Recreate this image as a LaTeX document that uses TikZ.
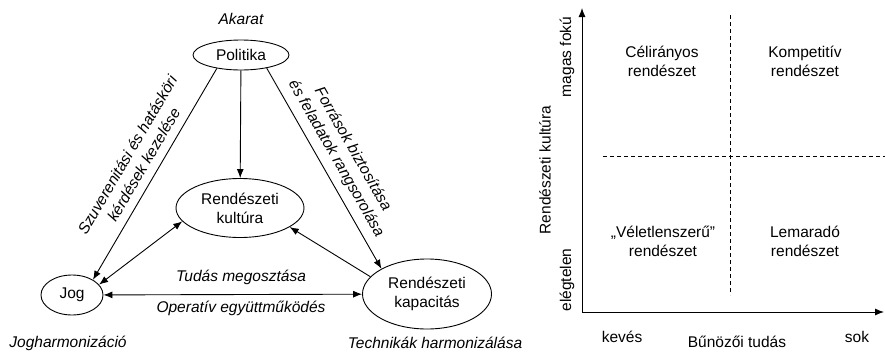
\documentclass[tikz,border=0pt]{standalone}
\usepackage{fontspec}
\setmainfont{Liberation Sans}
\usetikzlibrary{positioning,arrows.meta,shapes.geometric}

\begin{document}
\begin{tikzpicture}[
    x=1pt, y=-1pt,
    >={Latex[length=9pt,width=7pt]},
    line width=0.9pt,
    every node/.style={font=\fontsize{15.5}{19}\selectfont, align=center},
    oval/.style={ellipse, draw, inner sep=0pt},
    note/.style={font=\fontsize{15.5}{19}\selectfont\itshape},
    split/.style={dash pattern=on 4pt off 3pt, line width=0.8pt}
]
\useasboundingbox (0,0) rectangle (885,351);

% === Triangle ===
\node[note] (akarat) at (241,19) {Akarat};
\node[oval, minimum width=96pt, minimum height=30pt] (politika) at (241,55) {Politika};
\node[oval, minimum width=128pt, minimum height=59pt] (kultura) at (240,208) {Rendészeti\\kultúra};
\node[oval, minimum width=62pt, minimum height=40pt] (jog) at (72,295) {Jog};
\node[oval, minimum width=129pt, minimum height=70pt] (kapacitas) at (427,294) {Rendészeti\\kapacitás};

% Corner notes
\node[note] (jogharm) at (68,343) {Jogharmonizáció};
\node[note] (technika) at (435,343) {Technikák harmonizálása};

% Arrows
\draw[->] (politika) -- (kultura);
\draw[->] (politika.209) -- node[note, pos=0.49, sloped, above=5pt] {Szuverenitási és hatásköri\\kérdések kezelése} (jog.36);
\draw[->] (politika.333) -- node[note, pos=0.49, sloped, above=4pt] {Források biztosítása\\és feladatok rangsorolása} (kapacitas.151);
\draw[<->] (jog.21) -- (kultura.193);
\draw[->] (kapacitas.163) -- (kultura.339);
\draw[<->] (jog) -- (kapacitas);
\node[note] (tudas) at (241,277) {Tudás megosztása};
\node[note] (operativ) at (241,308) {Operatív együttműködés};

% === Quadrants ===
\coordinate (ytop) at (582,8);
\coordinate (xend) at (884,312);
\draw[<->] (ytop) |- (xend);

% Dashed split
\coordinate (vtop) at (730,15);
\coordinate (vbot) at (730,295);
\coordinate (hleft) at (603,156);
\coordinate (hright) at (885,156);
\draw[split] (vtop) -- (vbot);
\draw[split] (hleft) -- (hright);

% Quadrant texts
\node (celiranyos) at (662,61) {Célirányos\\rendészet};
\node (kompetitiv) at (805,61) {Kompetitív\\rendészet};
\node (veletlen) at (663,241) {„Véletlenszerű”\\rendészet};
\node (lemarado) at (805,241) {Lemaradó\\rendészet};

% Axis labels
\node[rotate=90] (magas) at (567,57) {magas fokú};
\node[rotate=90] (kultlab) at (545,170) {Rendészeti kultúra};
\node[rotate=90] (elegtelen) at (567,280) {elégtelen};
\node (keves) at (622,337) {kevés};
\node (sok) at (857,337) {sok};
\node (bunozoi) at (737,342) {Bűnözői tudás};
\end{tikzpicture}
\end{document}
